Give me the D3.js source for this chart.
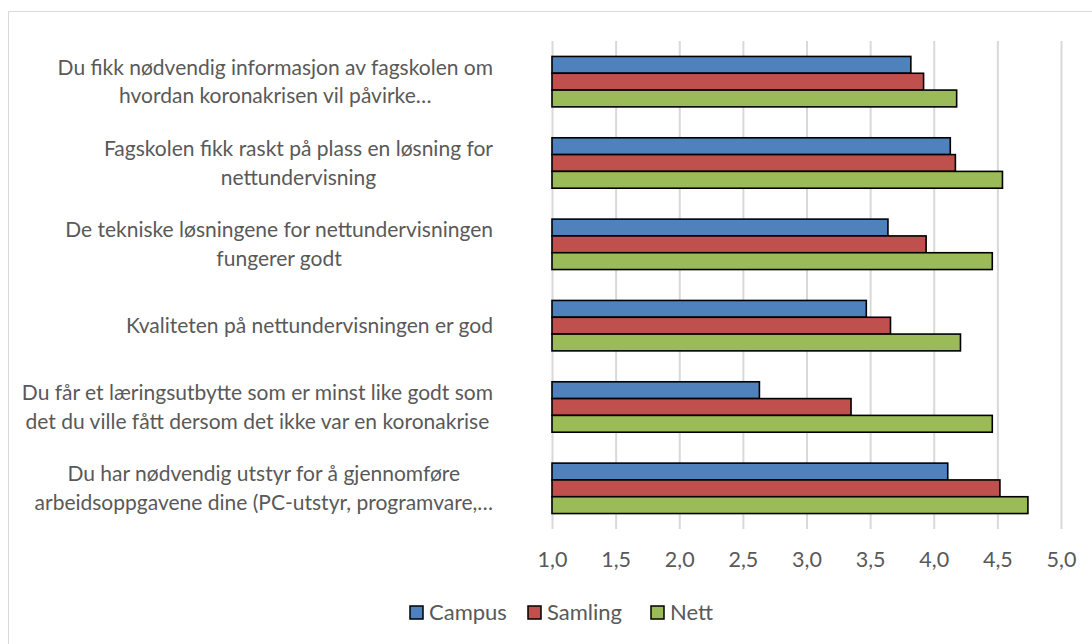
<!DOCTYPE html>
<html>
<head>
<meta charset="utf-8">
<script src="https://cdn.jsdelivr.net/npm/d3@7"></script>
<style>
  body { margin: 0; background: #fff; }
  text { font-family: Lato, "Open Sans", sans-serif; fill: #595959; }
</style>
</head>
<body>
<script>
// Category labels (already wrapped the way the chart shows them)
var categories = [
  ["Du fikk nødvendig informasjon av fagskolen om", "hvordan koronakrisen vil påvirke…"],
  ["Fagskolen fikk raskt på plass en løsning for", "nettundervisning"],
  ["De tekniske løsningene for nettundervisningen", "fungerer godt"],
  ["Kvaliteten på nettundervisningen er god"],
  ["Du får et læringsutbytte som er minst like godt som", "det du ville fått dersom det ikke var en koronakrise"],
  ["Du har nødvendig utstyr for å gjennomføre", "arbeidsoppgavene dine (PC-utstyr, programvare,…"]
];

// Series values, one per category
var campus  = [3.82, 4.13, 3.64, 3.47, 2.63, 4.11];
var samling = [3.92, 4.17, 3.94, 3.66, 3.35, 4.52];
var nett    = [4.18, 4.54, 4.46, 4.21, 4.46, 4.74];

var seriesNames = ["Campus", "Samling", "Nett"];
var seriesColors = ["#4f81bd", "#c0504d", "#9bbb59"];

var xTicks = [1, 1.5, 2, 2.5, 3, 3.5, 4, 4.5, 5];

var width = 1092, height = 644;
var plot = { left: 552, right: 1061, top: 41, bottom: 529 };

var svg = d3.select("body").append("svg")
  .attr("width", width)
  .attr("height", height);

// chart border (only top/left fall inside the picture)
svg.append("rect")
  .attr("x", 8.5).attr("y", 11.5)
  .attr("width", 1100).attr("height", 700)
  .attr("fill", "none")
  .attr("stroke", "#d9d9d9")
  .attr("stroke-width", 1);

var x = d3.scaleLinear()
  .domain([1, 5])
  .range([plot.left, plot.right]);

var y0 = d3.scaleBand()
  .domain(d3.range(categories.length))
  .range([plot.top, plot.bottom])
  .paddingInner(0.38)
  .paddingOuter(0.19);

var y1 = d3.scaleBand()
  .domain(seriesNames)
  .range([0, y0.bandwidth()]);

var color = d3.scaleOrdinal().domain(seriesNames).range(seriesColors);

// gridlines + tick labels
var xAxis = d3.axisBottom(x)
  .tickValues(xTicks)
  .tickSize(-(plot.bottom - plot.top))
  .tickFormat(function(d) { return d3.format(".1f")(d).replace(".", ","); });

var gx = svg.append("g")
  .attr("transform", "translate(0," + plot.bottom + ")")
  .call(xAxis);
gx.select(".domain").remove();
gx.selectAll(".tick line")
  .attr("stroke", "#d9d9d9")
  .attr("stroke-width", 2);
gx.selectAll(".tick text")
  .attr("y", 30)
  .attr("dy", "0.35em")
  .style("font-size", "21.5px")
  .style("fill", "#595959");

// bars
var rows = categories.map(function(c, i) {
  return [
    { key: "Campus", value: campus[i] },
    { key: "Samling", value: samling[i] },
    { key: "Nett", value: nett[i] }
  ];
});

var groups = svg.append("g").selectAll("g")
  .data(rows)
  .enter().append("g")
  .attr("transform", function(d, i) { return "translate(0," + y0(i) + ")"; });

groups.selectAll("rect")
  .data(function(d) { return d; })
  .enter().append("rect")
  .attr("x", x(1))
  .attr("y", function(d) { return y1(d.key); })
  .attr("width", function(d) { return x(d.value) - x(1); })
  .attr("height", y1.bandwidth())
  .attr("fill", function(d) { return color(d.key); })
  .attr("stroke", "#000")
  .attr("stroke-width", 1.6);

// category labels, block right-aligned, lines centred inside the block
var labelRight = 493;
var lineH = 28.4;
var labels = svg.append("g").selectAll("text")
  .data(categories)
  .enter().append("text")
  .style("font-size", "21px")
  .attr("text-anchor", "middle");

labels.each(function(lines, i) {
  var t = d3.select(this);
  var cy = y0(i) + y0.bandwidth() / 2;
  lines.forEach(function(l, j) {
    t.append("tspan")
      .attr("y", cy + (j - (lines.length - 1) / 2) * lineH)
      .attr("dy", "0.35em")
      .text(l);
  });
  var maxW = 0;
  t.selectAll("tspan").each(function() {
    maxW = Math.max(maxW, this.getComputedTextLength());
  });
  t.selectAll("tspan").attr("x", labelRight - maxW / 2);
});

// legend
var legendX = [410, 528, 651];
var legend = svg.append("g").selectAll("g")
  .data(seriesNames)
  .enter().append("g")
  .attr("transform", function(d, i) { return "translate(" + legendX[i] + ",606)"; });

legend.append("rect")
  .attr("width", 13)
  .attr("height", 13)
  .attr("fill", function(d) { return color(d); })
  .attr("stroke", "#000")
  .attr("stroke-width", 1.5);

legend.append("text")
  .attr("x", 19)
  .attr("y", 6.5)
  .attr("dy", "0.35em")
  .style("font-size", "22px")
  .text(function(d) { return d; });
</script>
</body>
</html>
